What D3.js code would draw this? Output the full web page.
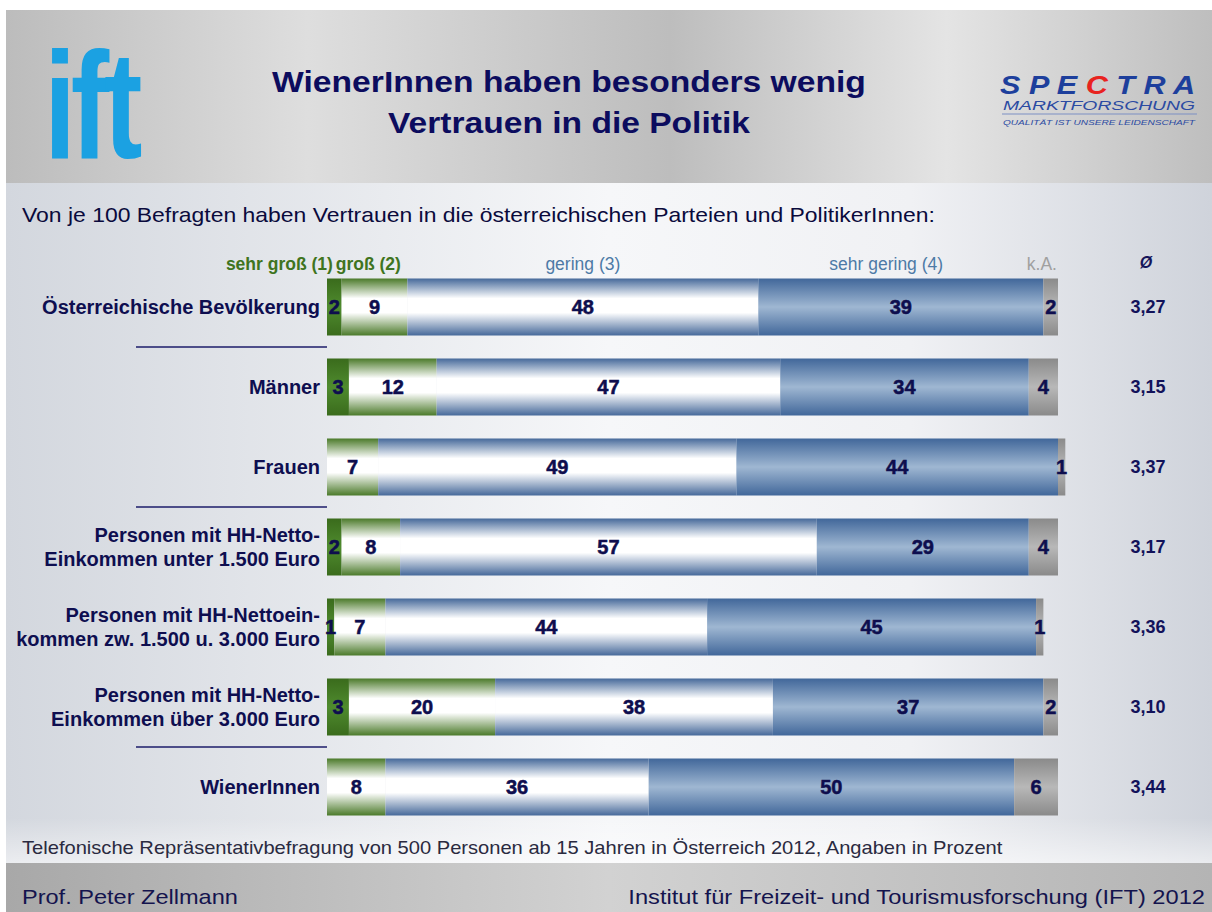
<!DOCTYPE html>
<html>
<head>
<meta charset="utf-8">
<script src="https://cdn.jsdelivr.net/npm/d3@7"></script>
<style>
  html, body { margin: 0; padding: 0; background: #fff; }
  svg { display: block; font-family: "Liberation Sans", Arial, sans-serif; }
</style>
</head>
<body>
<div id="chart"></div>
<script>
// categories (row labels, one array per line)
const rows = [
  ['Österreichische Bevölkerung'],
  ['Männer'],
  ['Frauen'],
  ['Personen mit HH-Netto-', 'Einkommen unter 1.500 Euro'],
  ['Personen mit HH-Nettoein-', 'kommen zw. 1.500 u. 3.000 Euro'],
  ['Personen mit HH-Netto-', 'Einkommen über 3.000 Euro'],
  ['WienerInnen']
];
const series = ['sehr groß (1)', 'groß (2)', 'gering (3)', 'sehr gering (4)', 'k.A.'];

// values per series, in row order (percent)
const sehrGross   = [2, 3, 0, 2, 1, 3, 0];
const gross       = [9, 12, 7, 8, 7, 20, 8];
const gering      = [48, 47, 49, 57, 44, 38, 36];
const sehrGering  = [39, 34, 44, 29, 45, 37, 50];
const keineAngabe = [2, 4, 1, 4, 1, 2, 6];
const mean        = ['3,27', '3,15', '3,37', '3,17', '3,36', '3,10', '3,44'];
const separatorsAfter = [0, 2, 5];

const W = 1212, H = 912;
const svg = d3.select('#chart').append('svg').attr('width', W).attr('height', H);
const defs = svg.append('defs');

function hGrad(id, stops) {
  const g = defs.append('linearGradient').attr('id', id)
    .attr('x1', 0).attr('y1', 0).attr('x2', 1).attr('y2', 0);
  stops.forEach(s => g.append('stop').attr('offset', s[0]).attr('stop-color', s[1]));
}
function vGrad(id, stops) {
  const g = defs.append('linearGradient').attr('id', id)
    .attr('x1', 0).attr('y1', 0).attr('x2', 0).attr('y2', 1);
  stops.forEach(s => g.append('stop').attr('offset', s[0]).attr('stop-color', s[1]));
}
// the slide font runs wider than Arial, so stretch glyphs horizontally to a width
function stretch(sel, w) {
  const k = w / sel.node().getComputedTextLength();
  const x0 = +sel.attr('x'), y0 = +sel.attr('y');
  return sel.attr('transform', `translate(${x0},${y0}) scale(${k},1) translate(${-x0},${-y0})`);
}
function fit(sel, w) {
  return sel.attr('textLength', w).attr('lengthAdjust', 'spacingAndGlyphs');
}

// backgrounds
hGrad('hdr', [[0, '#bcbcbc'], [0.25, '#dedede'], [0.55, '#bdbdbd'], [0.78, '#e4e4e4'], [1, '#bebebe']]);
hGrad('body', [[0, '#d3d7de'], [0.5, '#f6f7f9'], [0.75, '#f0f1f4'], [1, '#cfd3db']]);
hGrad('ftr', [[0, '#a8a8a8'], [0.5, '#d2d2d2'], [1, '#b4b4b4']]);
vGrad('fade', [[0, 'rgba(255,255,255,0)'], [1, 'rgba(255,255,255,0.55)']]);

// bar segment gradients
vGrad('g0', [[0, '#3a6b1c'], [0.5, '#4f8b2e'], [1, '#3a6b1c']]);
vGrad('g1', [[0, '#4b7a2a'], [0.35, '#ffffff'], [0.6, '#ffffff'], [1, '#4b7a2a']]);
vGrad('g2', [[0, '#46699a'], [0.35, '#ffffff'], [0.6, '#ffffff'], [1, '#46699a']]);
vGrad('g3', [[0, '#41679a'], [0.5, '#9fb7d2'], [1, '#41679a']]);
vGrad('g4', [[0, '#8a8a8a'], [0.5, '#b8b8b8'], [1, '#8a8a8a']]);

svg.append('rect').attr('x', 6).attr('y', 10).attr('width', W - 6).attr('height', H - 10).attr('fill', 'url(#body)');
svg.append('rect').attr('x', 6).attr('y', 10).attr('width', W - 6).attr('height', 173).attr('fill', 'url(#hdr)');
svg.append('rect').attr('x', 6).attr('y', 818).attr('width', W - 6).attr('height', 45).attr('fill', 'url(#fade)');
svg.append('rect').attr('x', 6).attr('y', 863).attr('width', W - 6).attr('height', H - 863).attr('fill', 'url(#ftr)');

// ift logo
svg.append('text').attr('x', 44).attr('y', 158)
  .attr('transform', 'translate(44,158) scale(0.76,1) translate(-44,-158)')
  .attr('font-size', 152).attr('font-weight', 'bold').attr('letter-spacing', -7)
  .attr('fill', '#1ba1e2').text('ift');

// title
const titleLines = ['WienerInnen haben besonders wenig', 'Vertrauen in die Politik'];
const titleW = [594, 362];
titleLines.forEach((t, i) => {
  stretch(svg.append('text').attr('x', 569).attr('y', 92 + i * 41).attr('text-anchor', 'middle')
    .attr('font-size', 29).attr('font-weight', 'bold').attr('fill', '#0c0c5e').text(t), titleW[i]);
});

// spectra logo
const sp = svg.append('g').attr('font-style', 'italic');
fit(sp.append('text').attr('x', 1000).attr('y', 94).attr('font-size', 25).attr('font-weight', 'bold')
  .attr('fill', '#1d3f9c'), 195)
  .selectAll('tspan').data(['S', ' P', ' E', ' C', ' T', ' R', ' A']).join('tspan')
  .attr('fill', d => d === ' C' ? '#e8231f' : '#1d3f9c').text(d => d);
fit(sp.append('text').attr('x', 1003).attr('y', 110).attr('font-size', 13)
  .attr('fill', '#2b4aa2').text('MARKTFORSCHUNG'), 192);
sp.append('line').attr('x1', 1002).attr('x2', 1197).attr('y1', 114).attr('y2', 114)
  .attr('stroke', '#7d8fc4').attr('stroke-width', 1.2);
fit(sp.append('text').attr('x', 1003).attr('y', 124.5).attr('font-size', 8)
  .attr('fill', '#2b4aa2').text('QUALITÄT IST UNSERE LEIDENSCHAFT'), 192);

// subtitle
stretch(svg.append('text').attr('x', 22).attr('y', 222).attr('font-size', 20.5).attr('fill', '#0a0a3c')
  .text('Von je 100 Befragten haben Vertrauen in die österreichischen Parteien und PolitikerInnen:'), 913);

// scales
const x = d3.scaleLinear().domain([0, 100]).range([327, 1058]);
const y = d3.scaleBand().domain(d3.range(rows.length)).range([267, 827])
  .paddingInner(0.2875).paddingOuter(0.14375);

const table = rows.map((r, i) => {
  const vals = [sehrGross[i], gross[i], gering[i], sehrGering[i], keineAngabe[i]];
  let acc = 0;
  return vals.map((v, k) => { const seg = { row: i, k, v, x0: acc, x1: acc + v }; acc += v; return seg; });
});

// legend labels
const legendColors = ['#3f7420', '#3f7420', '#4d7aa6', '#4d7aa6', '#a0a0a0'];
const legendPos = [[x(0.8), 'end'], [x(1.2), 'start'], [x(35), 'middle'], [x(76.5), 'middle'], [x(97.8), 'middle']];
svg.append('g').selectAll('text').data(series).join('text')
  .attr('x', (d, i) => legendPos[i][0]).attr('y', 270)
  .attr('text-anchor', (d, i) => legendPos[i][1])
  .attr('font-size', 17.5).attr('font-weight', (d, i) => i < 2 ? 'bold' : 'normal')
  .attr('fill', (d, i) => legendColors[i]).text(d => d);
svg.append('text').attr('x', 1146).attr('y', 268).attr('text-anchor', 'middle')
  .attr('font-size', 16).attr('font-weight', 'bold').attr('font-style', 'italic')
  .attr('fill', '#15155a').text('Ø');

// bars
const rowG = svg.append('g').selectAll('g').data(table).join('g')
  .attr('transform', (d, i) => `translate(0,${y(i)})`);
rowG.selectAll('rect').data(d => d.filter(s => s.v > 0)).join('rect')
  .attr('x', d => x(d.x0)).attr('width', d => x(d.x1) - x(d.x0))
  .attr('y', 0).attr('height', y.bandwidth())
  .attr('fill', d => `url(#g${d.k})`);
rowG.selectAll('text').data(d => d.filter(s => s.v > 0)).join('text')
  .attr('x', d => x((d.x0 + d.x1) / 2)).attr('y', y.bandwidth() / 2 + 7)
  .attr('text-anchor', 'middle').attr('font-size', 20).attr('font-weight', 'bold')
  .attr('stroke', '#0e0e4e').attr('stroke-width', 0.5)
  .attr('fill', '#0e0e4e').text(d => d.v);

// row labels
svg.append('g').selectAll('text').data(rows).join('text')
  .attr('text-anchor', 'end').attr('font-size', 20).attr('font-weight', 'bold').attr('fill', '#0e0e50')
  .each(function(lines, i) {
    const cy = y(i) + y.bandwidth() / 2;
    d3.select(this).selectAll('tspan').data(lines).join('tspan')
      .attr('x', 320)
      .attr('y', (l, j) => cy + 7 + (j - (lines.length - 1) / 2) * 24)
      .text(l => l);
  });

// means
svg.append('g').selectAll('text').data(mean).join('text')
  .attr('x', 1148).attr('y', (d, i) => y(i) + y.bandwidth() / 2 + 6)
  .attr('text-anchor', 'middle').attr('font-size', 18).attr('font-weight', 'bold')
  .attr('fill', '#12125a').text(d => d);

// separators
svg.append('g').selectAll('line').data(separatorsAfter).join('line')
  .attr('x1', 136).attr('x2', 327)
  .attr('y1', d => y(d) + y.step() - (y.step() - y.bandwidth()) / 2)
  .attr('y2', d => y(d) + y.step() - (y.step() - y.bandwidth()) / 2)
  .attr('stroke', '#1c1c6a').attr('stroke-width', 1.3);

// footnote + footer
stretch(svg.append('text').attr('x', 22).attr('y', 854).attr('font-size', 17.5).attr('fill', '#2a2a40')
  .text('Telefonische Repräsentativbefragung von 500 Personen ab 15 Jahren in Österreich 2012, Angaben in Prozent'), 981);
stretch(svg.append('text').attr('x', 22).attr('y', 904).attr('font-size', 21).attr('fill', '#14144e')
  .text('Prof. Peter Zellmann'), 216);
stretch(svg.append('text').attr('x', 1205).attr('y', 904).attr('text-anchor', 'end').attr('font-size', 21).attr('fill', '#14144e')
  .text('Institut für Freizeit- und Tourismusforschung (IFT) 2012'), 577);
</script>
</body>
</html>
